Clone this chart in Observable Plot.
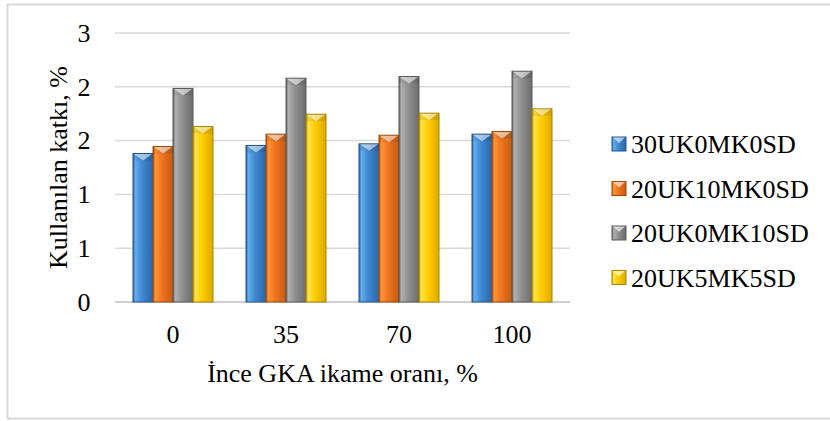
<!DOCTYPE html>
<html>
<head>
<meta charset="utf-8">
<script src="https://cdn.jsdelivr.net/npm/d3@7"></script>
<script src="https://cdn.jsdelivr.net/npm/@observablehq/plot@0.6"></script>
<style>
  body { margin: 0; background: #fff; }
  #chart { position: relative; width: 830px; height: 421px; }
  #chart svg { display: block; }
</style>
</head>
<body>
<div id="chart"></div>
<svg width="0" height="0" style="position:absolute">
  <defs id="bar-defs"></defs>
</svg>
<script>
// Replacement ratio categories (x axis)
const categories = ["0", "35", "70", "100"];

// Mixture series
const seriesNames = ["30UK0MK0SD", "20UK10MK0SD", "20UK0MK10SD", "20UK5MK5SD"];

// Admixture used (%), one array per mixture, in category order
const s30UK0MK0SD  = [1.38, 1.455, 1.47, 1.56];
const s20UK10MK0SD = [1.445, 1.56, 1.55, 1.585];
const s20UK0MK10SD = [1.985, 2.08, 2.095, 2.145];
const s20UK5MK5SD  = [1.63, 1.745, 1.755, 1.795];

// Y axis ticks and their printed labels (whole-number format)
const yTicks = [0, 0.5, 1, 1.5, 2, 2.5];
const yTickLabels = ["0", "1", "1", "2", "2", "3"];

const xTitle = "İnce GKA ikame oranı, %";
const yTitle = "Kullanılan katkı, %";

// Shading for each series: [edge, highlight, body, shadow, outline]
const seriesShades = [
  ["#2C67AD", "#62ADEE", "#3F88D2", "#2B66AA", "#25568F"],
  ["#B9560F", "#FF9436", "#F07420", "#C75B10", "#9E4A0E"],
  ["#676767", "#B0B0B0", "#909090", "#6C6C6C", "#5A5A5A"],
  ["#C99B00", "#FFE54A", "#FFCC00", "#DDAA00", "#A98600"]
];

const seriesValues = [s30UK0MK0SD, s20UK10MK0SD, s20UK0MK10SD, s20UK5MK5SD];
const rows = categories.flatMap((c, ci) =>
  seriesNames.map((s, si) => ({ category: c, series: s, value: seriesValues[si][ci] }))
);

// Horizontal cylinder-like gradients
const defs = d3.select("#bar-defs");
seriesShades.forEach((sh, i) => {
  const g = defs.append("linearGradient").attr("id", `grad${i}`)
    .attr("x1", 0).attr("x2", 1).attr("y1", 0).attr("y2", 0);
  [[0, sh[0]], [0.12, sh[1]], [0.45, sh[2]], [1, sh[3]]].forEach(([o, c]) =>
    g.append("stop").attr("offset", o).attr("stop-color", c));
});
const gradUrls = seriesShades.map((_, i) => `url(#grad${i})`);
const outlineBySeries = new Map(seriesNames.map((s, i) => [s, seriesShades[i][4]]));

const font = "'Liberation Serif', 'Times New Roman', serif";
const W = 830, H = 421;
const mL = 115, mR = 260, mT = 33, mB = 119;

const plot = Plot.plot({
  width: W,
  height: H,
  marginLeft: mL,
  marginRight: mR,
  marginTop: mT,
  marginBottom: mB,
  style: { fontFamily: font, fontSize: "26px", color: "#000", background: "transparent", overflow: "visible" },
  fx: {
    domain: categories,
    paddingInner: 0.2615,
    paddingOuter: 0.1308,
    axis: "bottom",
    tickSize: 0,
    tickPadding: 22,
    label: null
  },
  x: { domain: seriesNames, padding: 0, axis: null },
  y: { domain: [0, 2.5], axis: null },
  color: { type: "ordinal", domain: seriesNames, range: gradUrls },
  marks: [
    Plot.axisY(yTicks, {
      tickSize: 0,
      tickPadding: 41,
      tickFormat: d => yTickLabels[yTicks.indexOf(d)],
      label: null
    }),
    Plot.barY(rows, {
      fx: "category",
      x: "series",
      y: "value",
      fill: "series",
      stroke: d => outlineBySeries.get(d.series),
      strokeWidth: 1
    })
  ]
});

const svg = d3.select(plot);
const y = plot.scale("y");

// Chart border
svg.insert("rect", ":first-child")
  .attr("x", 7.5).attr("y", 4.5).attr("width", 840).attr("height", 414)
  .attr("fill", "none").attr("stroke", "#D9D9D9").attr("stroke-width", 2);

// Horizontal gridlines spanning the whole plotting area
const grid = svg.insert("g", "g[aria-label='bar']")
  .attr("stroke", "#D9D9D9").attr("stroke-width", 1.5);
yTicks.forEach(t => {
  const py = y.apply(t);
  grid.append("line")
    .attr("x1", mL).attr("x2", W - mR).attr("y1", py).attr("y2", py)
    .attr("stroke", t === 0 ? "#CFCFCF" : null)
    .attr("stroke-width", t === 0 ? 2 : null);
});

// Bevelled caps on each bar
svg.selectAll("g[aria-label='bar'] rect").each(function () {
  const r = d3.select(this);
  const x = +r.attr("x"), yy = +r.attr("y"), w = +r.attr("width");
  const h = Math.min(7, +r.attr("height"));
  const p = d3.select(this.parentNode);
  p.append("polygon")
    .attr("points", `${x},${yy} ${x + w},${yy} ${x + w},${yy + h} ${x},${yy + h}`)
    .attr("fill", "#000").attr("fill-opacity", 0.08);
  p.append("polygon")
    .attr("points", `${x + 1},${yy + 0.5} ${x + w - 1},${yy + 0.5} ${x + w / 2},${yy + h}`)
    .attr("fill", "#fff").attr("fill-opacity", 0.55);
});

// Axis titles
const titles = svg.append("g").attr("font-family", font).attr("font-size", 26).attr("fill", "#000")
  .attr("text-anchor", "middle");
titles.append("text")
  .attr("x", (mL + W - mR) / 2).attr("y", 382)
  .text(xTitle);
titles.append("text")
  .attr("transform", `translate(67,${(mT + H - mB) / 2}) rotate(-90)`)
  .text(yTitle);

// Legend
const lg = svg.append("g").attr("font-family", font).attr("font-size", 26).attr("fill", "#000")
  .attr("text-anchor", "start");
seriesNames.forEach((s, i) => {
  const cy = 144 + i * 44.5;
  lg.append("rect")
    .attr("x", 612).attr("y", cy - 7).attr("width", 14).attr("height", 14)
    .attr("fill", gradUrls[i]).attr("stroke", seriesShades[i][4]);
  lg.append("polygon")
    .attr("points", `${613},${cy - 6.5} ${625},${cy - 6.5} ${619},${cy - 1}`)
    .attr("fill", "#fff").attr("fill-opacity", 0.6);
  lg.append("text").attr("x", 631).attr("y", cy).attr("dy", "0.35em").text(s);
});

document.getElementById("chart").appendChild(plot);
</script>
</body>
</html>
